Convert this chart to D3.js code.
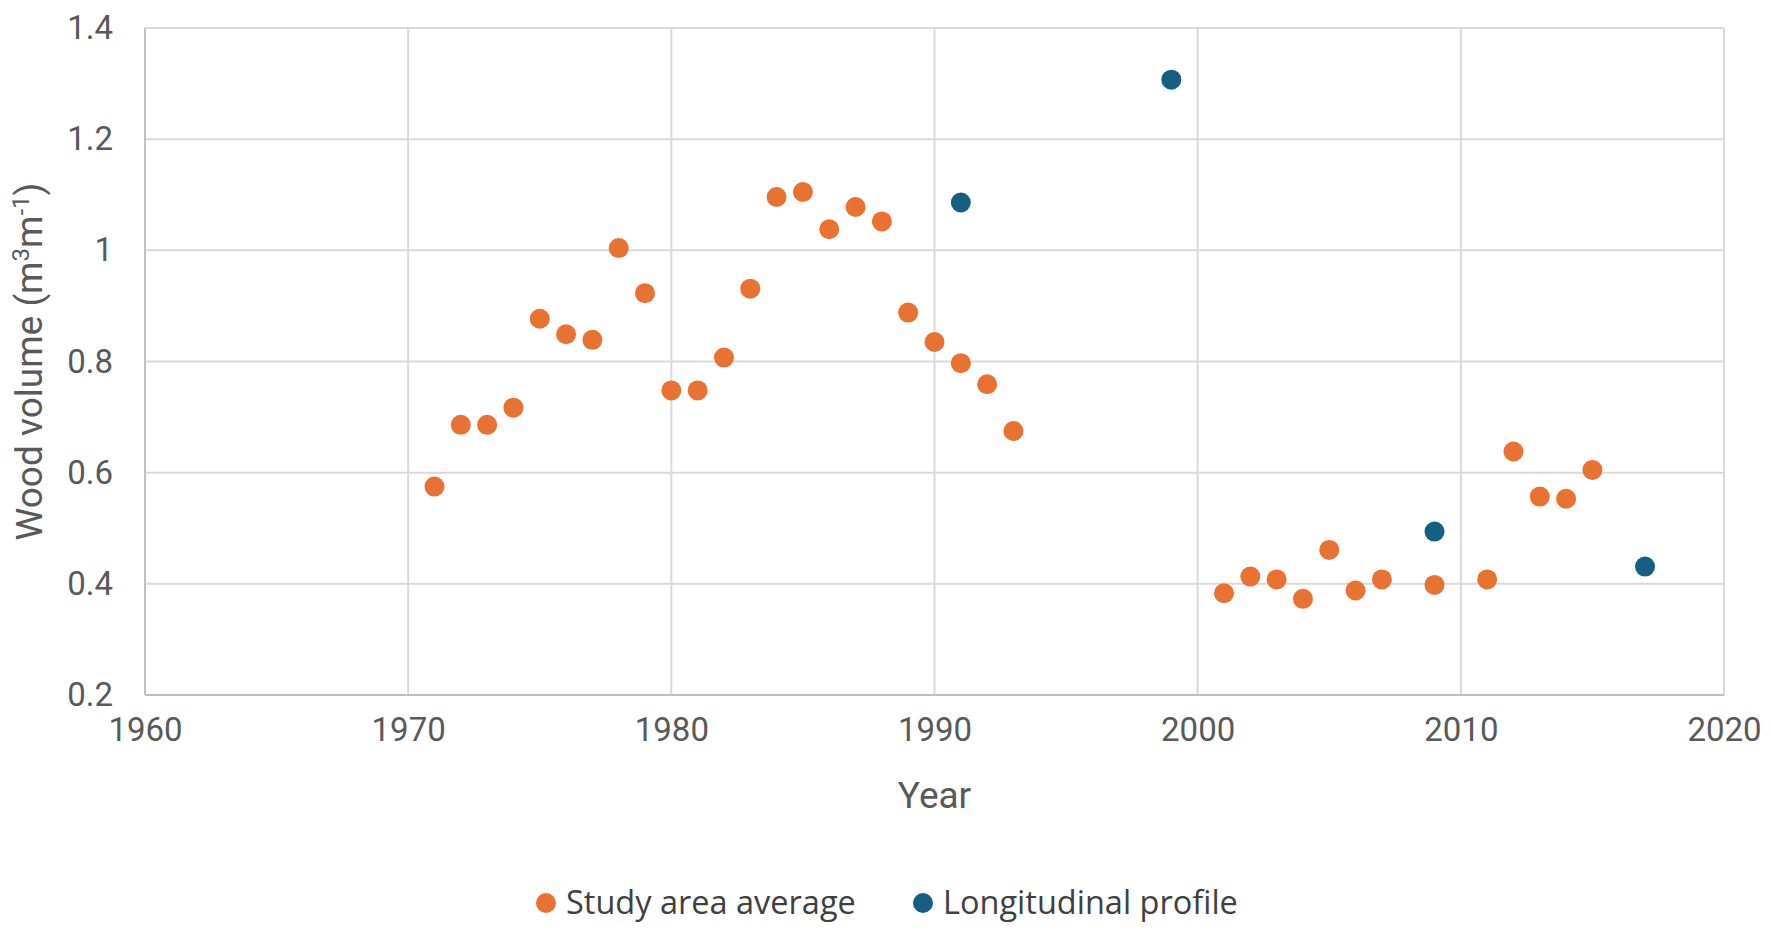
<!DOCTYPE html>
<html>
<head>
<meta charset="utf-8">
<script src="https://cdnjs.cloudflare.com/ajax/libs/d3/7.8.5/d3.min.js"></script>
<style>
    body { margin: 0; background: #fff; }
    svg { display: block; }
</style>
</head>
<body>
<div id="chart"></div>
<script>
// Study area average (orange)
const saYears = [1971, 1972, 1973, 1974, 1975, 1976, 1977, 1978, 1979, 1980,
    1981, 1982, 1983, 1984, 1985, 1986, 1987, 1988, 1989, 1990,
    1991, 1992, 1993, 2001, 2002, 2003, 2004, 2005, 2006, 2007,
    2009, 2011, 2012, 2013, 2014, 2015];
const saValues = [0.575, 0.686, 0.686, 0.717, 0.877, 0.849, 0.839, 1.004, 0.923, 0.748,
    0.748, 0.807, 0.931, 1.096, 1.105, 1.038, 1.078, 1.052, 0.888, 0.835,
    0.797, 0.759, 0.675, 0.383, 0.413, 0.408, 0.373, 0.461, 0.388, 0.408,
    0.398, 0.408, 0.638, 0.557, 0.553, 0.605];

// Longitudinal profile (blue)
const lpYears = [1991, 1999, 2009, 2017];
const lpValues = [1.086, 1.307, 0.494, 0.431];

const xTicks = [1960, 1970, 1980, 1990, 2000, 2010, 2020];
const yTicks = [0.2, 0.4, 0.6, 0.8, 1, 1.2, 1.4];

const seriesNames = ['Study area average', 'Longitudinal profile'];
const seriesColors = ['#E97132', '#156082'];

const width = 1772;
const height = 933;
const plot = { left: 145, right: 1724, top: 28, bottom: 695 };

const svg = d3.select('#chart')
    .append('svg')
    .attr('width', width)
    .attr('height', height);

const x = d3.scaleLinear().domain([1960, 2020]).range([plot.left, plot.right]);
const y = d3.scaleLinear().domain([0.2, 1.4]).range([plot.bottom, plot.top]);

const tickFont = 'Roboto, "Liberation Sans", Arial, sans-serif';

// gridlines
svg.append('g')
    .selectAll('line.h')
    .data(yTicks)
    .enter()
    .append('line')
    .attr('x1', plot.left).attr('x2', plot.right)
    .attr('y1', d => y(d)).attr('y2', d => y(d))
    .attr('stroke', '#d9d9d9')
    .attr('stroke-width', 2);

svg.append('g')
    .selectAll('line.v')
    .data(xTicks)
    .enter()
    .append('line')
    .attr('y1', plot.top).attr('y2', plot.bottom)
    .attr('x1', d => x(d)).attr('x2', d => x(d))
    .attr('stroke', '#d9d9d9')
    .attr('stroke-width', 2);

// axis lines
svg.append('line')
    .attr('x1', plot.left).attr('x2', plot.right)
    .attr('y1', plot.bottom).attr('y2', plot.bottom)
    .attr('stroke', '#bfbfbf').attr('stroke-width', 2);
svg.append('line')
    .attr('x1', plot.left).attr('x2', plot.left)
    .attr('y1', plot.top).attr('y2', plot.bottom)
    .attr('stroke', '#bfbfbf').attr('stroke-width', 2);

// axes (labels only)
const xAxis = svg.append('g')
    .attr('transform', `translate(0,${plot.bottom})`)
    .call(d3.axisBottom(x).tickValues(xTicks).tickFormat(d3.format('d')).tickSize(0).tickPadding(23));
const yAxis = svg.append('g')
    .attr('transform', `translate(${plot.left},0)`)
    .call(d3.axisLeft(y).tickValues(yTicks).tickFormat(d => String(d)).tickSize(0).tickPadding(32));

[xAxis, yAxis].forEach(ax => {
    ax.select('.domain').remove();
    ax.selectAll('text')
        .style('font-family', tickFont)
        .style('font-size', '33px')
        .attr('fill', '#595959');
});

// axis titles
svg.append('text')
    .attr('x', (plot.left + plot.right) / 2)
    .attr('y', 808)
    .attr('text-anchor', 'middle')
    .style('font-family', tickFont)
    .style('font-size', '37px')
    .attr('fill', '#595959')
    .text('Year');

const yTitle = svg.append('text')
    .attr('transform', `translate(42,${(plot.top + plot.bottom) / 2}) rotate(-90)`)
    .attr('text-anchor', 'middle')
    .style('font-family', tickFont)
    .style('font-size', '37px')
    .attr('fill', '#595959');
yTitle.append('tspan').text('Wood volume (m');
yTitle.append('tspan').text('3').attr('dy', -13).style('font-size', '24px');
yTitle.append('tspan').text('m').attr('dy', 13);
yTitle.append('tspan').text('-1').attr('dy', -13).style('font-size', '24px');
yTitle.append('tspan').text(')').attr('dy', 13);

// points
const saPoints = saYears.map((yr, i) => ({ year: yr, value: saValues[i] }));
const lpPoints = lpYears.map((yr, i) => ({ year: yr, value: lpValues[i] }));

svg.append('g')
    .selectAll('circle')
    .data(saPoints)
    .enter()
    .append('circle')
    .attr('cx', d => x(d.year))
    .attr('cy', d => y(d.value))
    .attr('r', 10)
    .attr('fill', seriesColors[0]);

svg.append('g')
    .selectAll('circle')
    .data(lpPoints)
    .enter()
    .append('circle')
    .attr('cx', d => x(d.year))
    .attr('cy', d => y(d.value))
    .attr('r', 10)
    .attr('fill', seriesColors[1]);

// legend
const legendX = [546, 923];
const legend = svg.append('g')
    .selectAll('g')
    .data(seriesNames)
    .enter()
    .append('g')
    .attr('transform', (d, i) => `translate(${legendX[i]},903)`);

legend.append('circle')
    .attr('r', 10)
    .attr('fill', (d, i) => seriesColors[i]);

legend.append('text')
    .attr('x', 20)
    .attr('y', 11)
    .style('font-family', '"Open Sans", Lato, sans-serif')
    .style('font-size', '32.5px')
    .attr('fill', '#404040')
    .text(d => d);
</script>
</body>
</html>
